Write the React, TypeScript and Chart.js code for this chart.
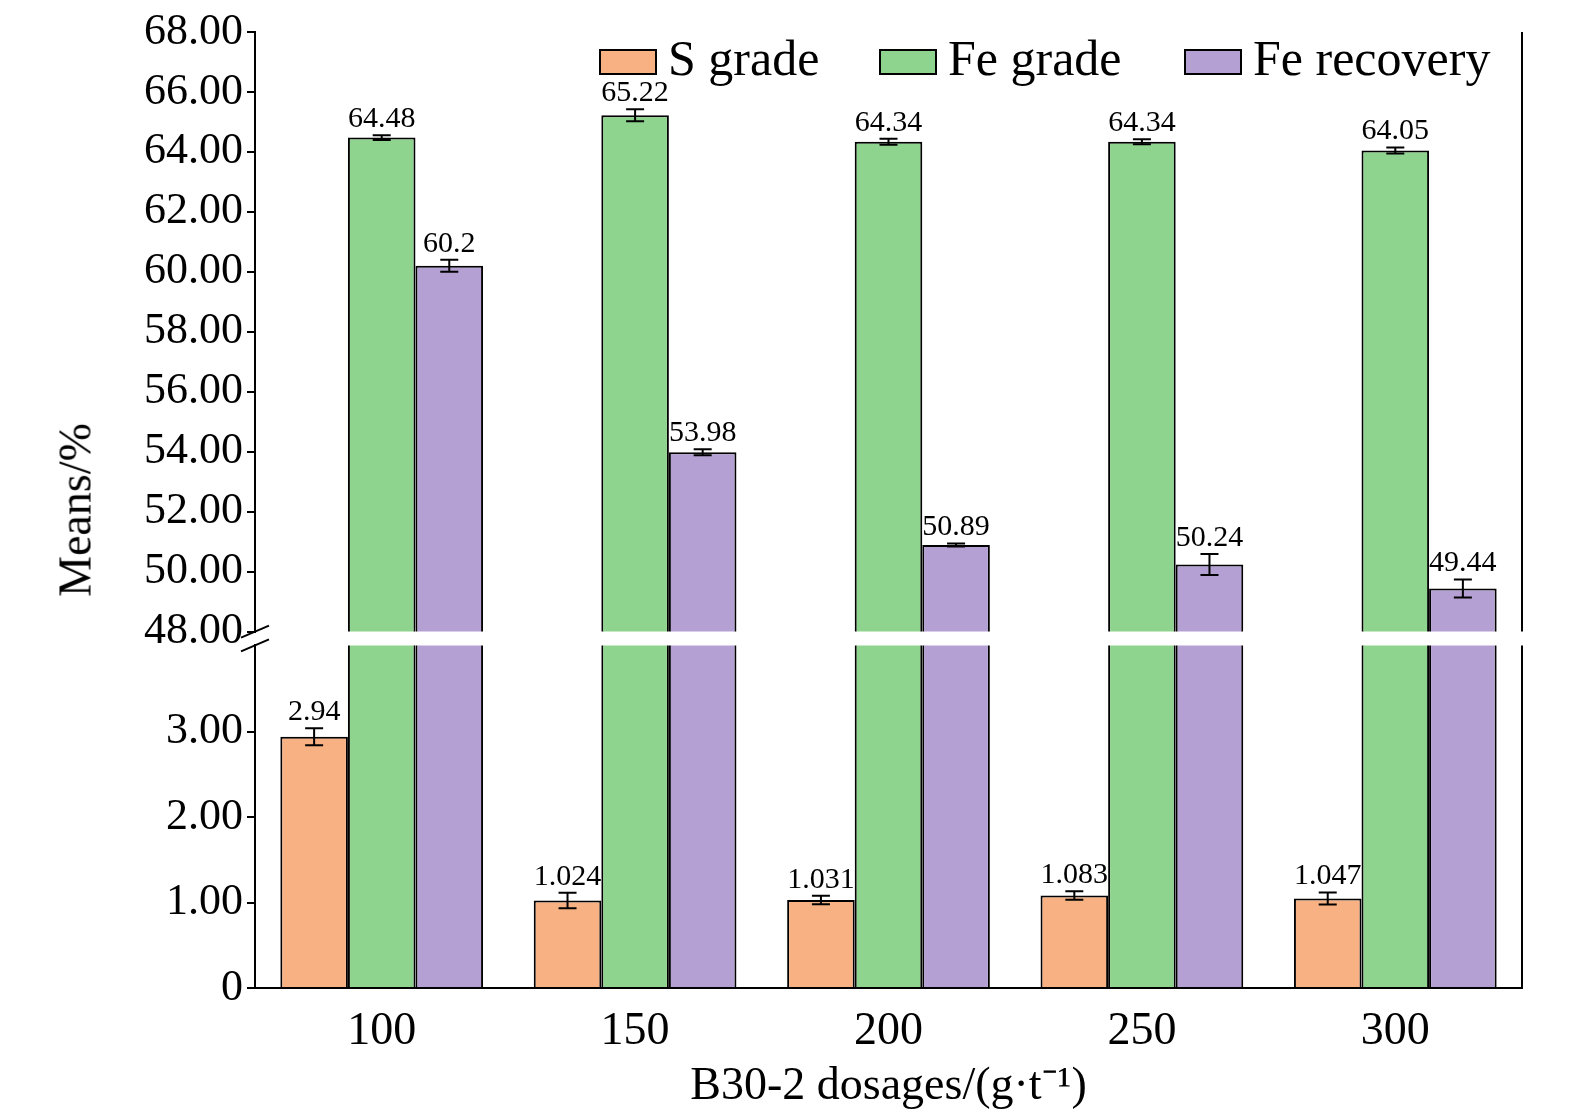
import React, { useEffect, useRef } from "react";
import { Chart, registerables } from "chart.js";
Chart.register(...registerables);

const categories = ["100", "150", "200", "250", "300"];
const sGrade = [2.94, 1.024, 1.031, 1.083, 1.047];
const sErr = [0.1, 0.09, 0.05, 0.05, 0.07];
const feGrade = [64.48, 65.22, 64.34, 64.34, 64.05];
const feGradeErr = [0.08, 0.2, 0.1, 0.08, 0.1];
const feRec = [60.2, 53.98, 50.89, 50.24, 49.44];
const feRecErr = [0.2, 0.1, 0.05, 0.35, 0.3];
const seriesNames = ["S grade", "Fe grade", "Fe recovery"];
const colors = ["#F7B183", "#8FD48E", "#B5A0D3"];
const FONT = "Liberation Serif";

const errPlugin = (errs: (number[] | null)[], labels: (string[] | null)[]) => ({
  id: "err",
  afterDatasetsDraw(chart: any) {
    const ctx = chart.ctx;
    const y = chart.scales.y;
    ctx.save();
    errs.forEach((e, di) => {
      if (!e) return;
      const meta = chart.getDatasetMeta(di);
      const data = chart.data.datasets[di].data;
      meta.data.forEach((bar: any, i: number) => {
        const v = data[i];
        const yt = y.getPixelForValue(v + e[i]);
        const yb = y.getPixelForValue(v - e[i]);
        ctx.strokeStyle = "#000";
        ctx.lineWidth = 2;
        ctx.beginPath();
        ctx.moveTo(bar.x, yt); ctx.lineTo(bar.x, yb);
        ctx.moveTo(bar.x - 9, yt); ctx.lineTo(bar.x + 9, yt);
        ctx.moveTo(bar.x - 9, yb); ctx.lineTo(bar.x + 9, yb);
        ctx.stroke();
        const l = labels[di];
        if (l) {
          ctx.fillStyle = "#000";
          ctx.font = `30px ${FONT}`;
          ctx.textAlign = "center";
          ctx.textBaseline = "bottom";
          ctx.fillText(l[i], bar.x, yt - 1);
        }
      });
    });
    const a = chart.chartArea;
    ctx.strokeStyle = "#000";
    ctx.lineWidth = 2;
    ctx.beginPath();
    ctx.moveTo(a.right, a.top); ctx.lineTo(a.right, a.bottom);
    ctx.stroke();
    ctx.restore();
  },
});

const legendPlugin = {
  id: "leg",
  afterDraw(chart: any) {
    const ctx = chart.ctx;
    ctx.save();
    ctx.font = `50px ${FONT}`;
    ctx.textBaseline = "middle";
    const xs = [600, 880, 1185];
    const yy = 62;
    seriesNames.forEach((n, i) => {
      ctx.fillStyle = colors[i];
      ctx.fillRect(xs[i], yy - 12, 56, 24);
      ctx.strokeStyle = "#000";
      ctx.lineWidth = 2;
      ctx.strokeRect(xs[i], yy - 12, 56, 24);
      ctx.fillStyle = "#000";
      ctx.fillText(n, xs[i] + 68, yy);
    });
    const a = chart.chartArea;
    ctx.lineWidth = 2;
    ctx.beginPath();
    ctx.moveTo(a.left - 14, a.bottom + 6); ctx.lineTo(a.left + 14, a.bottom - 6);
    ctx.stroke();
    ctx.restore();
  },
};
const breakBottom = {
  id: "brk",
  afterDraw(chart: any) {
    const ctx = chart.ctx;
    const a = chart.chartArea;
    ctx.save();
    ctx.strokeStyle = "#000";
    ctx.lineWidth = 2;
    ctx.beginPath();
    ctx.moveTo(a.left - 14, a.top + 6); ctx.lineTo(a.left + 14, a.top - 6);
    ctx.stroke();
    ctx.restore();
  },
};

const fmt = (v: any) => (Number(v) === 0 ? "0" : Number(v).toFixed(2));

export default function App() {
  const topRef = useRef<HTMLCanvasElement>(null);
  const botRef = useRef<HTMLCanvasElement>(null);
  useEffect(() => {
    const ds = (vals: (number | null)[], i: number) => ({
      label: seriesNames[i], data: vals, backgroundColor: colors[i], borderColor: "#000",
      borderWidth: 2, barPercentage: 1, categoryPercentage: 0.8,
    });
    const yCommon = (min: number, max: number, step: number) => ({
      min, max,
      afterFit: (s: any) => { s.width = 255; },
      ticks: { stepSize: step, callback: fmt, color: "#000", font: { family: FONT, size: 44 }, padding: 4 },
      grid: { drawOnChartArea: false, drawTicks: true, tickLength: 8, color: "#000", lineWidth: 2 },
      border: { color: "#000", width: 2 },
    });
    const top = new Chart(topRef.current!, {
      type: "bar",
      data: { labels: categories, datasets: [ds(sGrade.map(() => null), 0), ds(feGrade, 1), ds(feRec, 2)] },
      options: {
        animation: false, responsive: false,
        layout: { padding: { top: 32, bottom: 12, right: 53, left: 0 } },
        plugins: { legend: { display: false }, tooltip: { enabled: false } },
        scales: {
          x: { display: false },
          y: yCommon(48, 68, 2) as any,
        },
      },
      plugins: [errPlugin([null, feGradeErr, feRecErr], [null, feGrade.map(String), feRec.map(String)]), legendPlugin],
    });
    const bot = new Chart(botRef.current!, {
      type: "bar",
      data: { labels: categories, datasets: [ds(sGrade, 0), ds(feGrade, 1), ds(feRec, 2)] },
      options: {
        animation: false, responsive: false,
        layout: { padding: { top: 2, bottom: 0, right: 53, left: 0 } },
        plugins: { legend: { display: false }, tooltip: { enabled: false } },
        scales: {
          x: {
            afterFit: (s: any) => { s.height = 131; },
            ticks: { color: "#000", font: { family: FONT, size: 46 }, padding: 16 },
            grid: { drawOnChartArea: false, drawTicks: false },
            border: { color: "#000", width: 2 },
            title: { display: true, text: "B30-2 dosages/(g·t⁻¹)", color: "#000", font: { family: FONT, size: 46 }, padding: { top: 0 } },
          },
          y: { ...(yCommon(0, 4.01, 1) as any), afterBuildTicks: (s: any) => { s.ticks = s.ticks.filter((t: any) => t.value <= 3); } },
        },
      },
      plugins: [errPlugin([sErr, null, null], [sGrade.map(String), null, null]), breakBottom],
    });
    return () => { top.destroy(); bot.destroy(); };
  }, []);
  return (
    <div style={{ position: "absolute", left: 0, top: 0, width: 1575, height: 1119, background: "#fff", overflow: "hidden" }}>
      <canvas ref={topRef} width={1575} height={662} style={{ position: "absolute", left: 0, top: 0 }} />
      <canvas ref={botRef} width={1575} height={504} style={{ position: "absolute", left: 0, top: 615 }} />
      <div style={{ position: "absolute", left: 75, top: 510, transform: "translate(-50%,-50%) rotate(-90deg)", fontFamily: FONT, fontSize: 46, whiteSpace: "nowrap" }}>
        Means/%
      </div>
    </div>
  );
}
